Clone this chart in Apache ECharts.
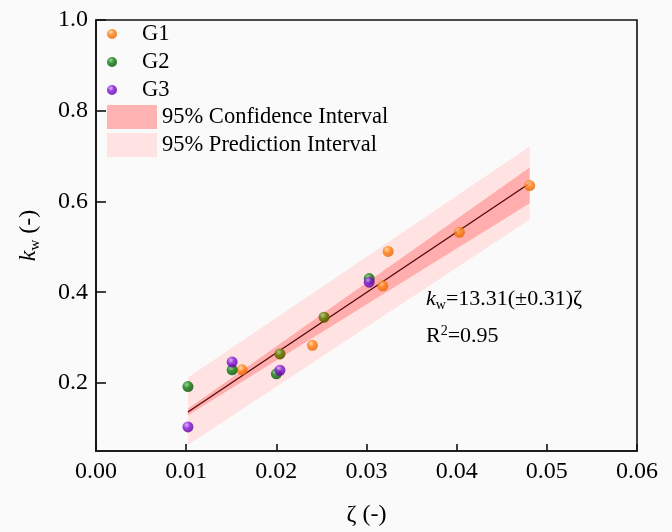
<!DOCTYPE html>
<html>
<head>
<meta charset="utf-8">
<script src="https://cdn.jsdelivr.net/npm/echarts@6/dist/echarts.min.js"></script>
<style>
  html, body { margin: 0; padding: 0; background: #FAFAFA; }
  #chart { width: 672px; height: 532px; }
</style>
</head>
<body>
<div id="chart"></div>
<script>
// ---- data ----
const g1X = [0.0162, 0.0204, 0.0240, 0.0253, 0.0318, 0.0324, 0.0403, 0.0481];
const g1Y = [0.229, 0.264, 0.283, 0.345, 0.414, 0.490, 0.532, 0.635];
const g2X = [0.0102, 0.0151, 0.0200, 0.0204, 0.0253, 0.0303];
const g2Y = [0.192, 0.229, 0.220, 0.264, 0.345, 0.430];
const g3X = [0.0102, 0.0151, 0.0204, 0.0303];
const g3Y = [0.103, 0.246, 0.228, 0.422];

const fitX = [0.0102, 0.0481];
const fitY = [0.136, 0.640];
const ciLow = [0.129, 0.596];
const ciHigh = [0.143, 0.675];
const piLow = [0.063, 0.560];
const piHigh = [0.212, 0.721];

const xTicks = [0, 0.01, 0.02, 0.03, 0.04, 0.05, 0.06];
const yTicks = [0.2, 0.4, 0.6, 0.8, 1.0];

const seriesNames = ['G1', 'G2', 'G3'];
const bandNames = ['95% Confidence Interval', '95% Prediction Interval'];
// ---------------------------------------

const FONT = "'Liberation Serif', 'Times New Roman', serif";

function sphere(light, base, dark) {
  return new echarts.graphic.RadialGradient(0.38, 0.32, 0.7, [
    { offset: 0, color: light },
    { offset: 0.45, color: base },
    { offset: 1, color: dark }
  ]);
}
const orange = sphere('#FFD0A0', '#FF7F0A', '#E56400');
const green = sphere('#7FD07F', '#0B7A0B', '#004E00');
const purple = sphere('#D9A8FF', '#8410D8', '#5A009E');

function pairs(xs, ys) { return xs.map((x, i) => [x, ys[i]]); }

// olive overlaps: green drawn semi-transparent over orange at the shared points
const g2Data = g2X.map((x, i) => {
  const shared = g1X.some((gx, j) => gx === x && g1Y[j] === g2Y[i]);
  return shared ? { value: [x, g2Y[i]], itemStyle: { opacity: 0.55 } } : [x, g2Y[i]];
});

function bandSeries(name, lows, highs, color, z) {
  return {
    name: name,
    type: 'custom',
    z: z,
    silent: true,
    clip: true,
    data: fitX.map((x, i) => [x, lows[i], highs[i]]),
    itemStyle: { color: color },
    renderItem: function (params, api) {
      if (params.dataIndex !== 0) return;
      const pts = [];
      for (let i = 0; i < fitX.length; i++) pts.push(api.coord([fitX[i], highs[i]]));
      for (let i = fitX.length - 1; i >= 0; i--) pts.push(api.coord([fitX[i], lows[i]]));
      return { type: 'polygon', shape: { points: pts }, style: { fill: color } };
    }
  };
}

const chart = echarts.init(document.getElementById('chart'), null, { renderer: 'canvas' });

const option = {
  backgroundColor: '#FAFAFA',
  animation: false,
  grid: {
    left: 96, right: 35, top: 20, bottom: 81,
    show: true, borderColor: '#111', borderWidth: 1.6,
    containLabel: false, outerBoundsMode: 'none'
  },
  legend: [
    {
      orient: 'vertical', left: 107, top: 22, padding: 0,
      itemWidth: 50, itemHeight: 10, itemGap: 4,
      textStyle: { fontFamily: FONT, fontSize: 22.5, color: '#000', lineHeight: 24 },
      data: seriesNames.map(n => ({ name: n, icon: 'circle' }))
    },
    {
      orient: 'vertical', left: 107, top: 105, padding: 0,
      itemWidth: 50, itemHeight: 24, itemGap: 4,
      textStyle: { fontFamily: FONT, fontSize: 22.5, color: '#000', lineHeight: 24 },
      data: [
        { name: bandNames[0], icon: 'rect', itemStyle: { color: '#FFB3B3' } },
        { name: bandNames[1], icon: 'rect', itemStyle: { color: '#FFE3E3' } }
      ]
    }
  ],
  xAxis: {
    type: 'value', min: xTicks[0], max: xTicks[xTicks.length - 1], interval: 0.01,
    name: 'ζ (-)', nameLocation: 'middle', nameGap: 52,
    nameTextStyle: { fontFamily: FONT, fontSize: 24, color: '#000' },
    axisLine: { show: true, lineStyle: { color: '#111', width: 1.6 } },
    axisTick: { show: true, inside: true, length: 7, lineStyle: { color: '#111', width: 1.6 } },
    axisLabel: { fontFamily: FONT, fontSize: 24, color: '#000', margin: 9,
      formatter: v => v.toFixed(2) },
    splitLine: { show: false }
  },
  yAxis: {
    type: 'value', min: 0.05, max: 1.0,
    name: '{k|k}{w|w}{t| (-)}', nameLocation: 'middle', nameGap: 53, nameRotate: 90,
    nameTextStyle: {
      fontFamily: FONT, fontSize: 24, color: '#000',
      rich: {
        k: { fontFamily: FONT, fontSize: 24, fontStyle: 'italic', color: '#000', lineHeight: 28 },
        w: { fontFamily: FONT, fontSize: 15, color: '#000', verticalAlign: 'bottom', lineHeight: 14 },
        t: { fontFamily: FONT, fontSize: 24, color: '#000', lineHeight: 28 }
      }
    },
    axisLine: { show: true, lineStyle: { color: '#111', width: 1.6 } },
    axisTick: { show: true, inside: true, length: 10, customValues: yTicks,
      lineStyle: { color: '#111', width: 1.6 } },
    axisLabel: { fontFamily: FONT, fontSize: 24, color: '#000', margin: 8,
      customValues: yTicks, formatter: v => v.toFixed(1) },
    splitLine: { show: false }
  },
  series: [
    bandSeries(bandNames[1], piLow, piHigh, '#FFE3E3', 1),
    bandSeries(bandNames[0], ciLow, ciHigh, '#FFADAD', 2),
    {
      name: 'fit', type: 'line', z: 3, silent: true,
      data: pairs(fitX, fitY), showSymbol: false, symbol: 'none',
      lineStyle: { color: '#4E0808', width: 1.3 }
    },
    {
      name: 'G1', type: 'scatter', z: 4, symbolSize: 11,
      data: pairs(g1X, g1Y), itemStyle: { color: orange }
    },
    {
      name: 'G2', type: 'scatter', z: 5, symbolSize: 11,
      data: g2Data, itemStyle: { color: green }
    },
    {
      name: 'G3', type: 'scatter', z: 6, symbolSize: 11,
      data: pairs(g3X, g3Y), itemStyle: { color: purple }
    }
  ],
  graphic: [
    {
      type: 'text', left: 426, top: 288, z: 10,
      style: {
        text: '{k|k}{w|w}{t|=13.31(±0.31)ζ}',
        rich: {
          k: { fontFamily: FONT, fontSize: 22, fontStyle: 'italic', fill: '#000', lineHeight: 26 },
          w: { fontFamily: FONT, fontSize: 14, fill: '#000', verticalAlign: 'bottom', lineHeight: 14 },
          t: { fontFamily: FONT, fontSize: 22, fill: '#000', lineHeight: 26 }
        }
      }
    },
    {
      type: 'text', left: 426, top: 324, z: 10,
      style: {
        text: '{t|R}{s|2}{t|=0.95}',
        rich: {
          t: { fontFamily: FONT, fontSize: 22, fill: '#000', lineHeight: 24 },
          s: { fontFamily: FONT, fontSize: 14, fill: '#000', verticalAlign: 'top', lineHeight: 14 }
        }
      }
    }
  ]
};
chart.setOption(option);
</script>
</body>
</html>
